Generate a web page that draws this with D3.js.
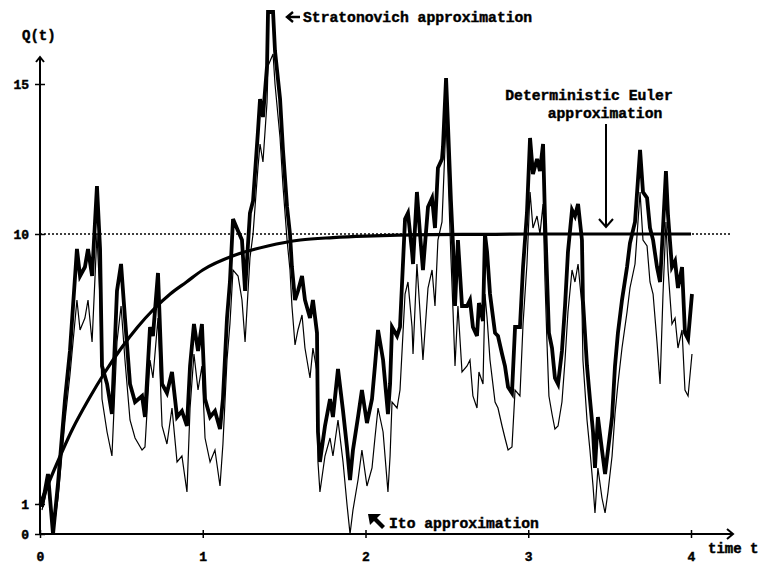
<!DOCTYPE html>
<html>
<head>
<meta charset="utf-8">
<script src="https://cdn.jsdelivr.net/npm/d3@7"></script>
<style>
  html, body { margin: 0; padding: 0; background: #fff; }
  svg { display: block; }
  text { font-family: "Liberation Mono", "DejaVu Sans Mono", monospace; font-weight: bold; fill: #000; stroke: #000; stroke-width: 0.45; }
</style>
</head>
<body>
<svg id="chart" width="765" height="565"></svg>
<script>
// Sample times shared by both stochastic paths
const times = [
  0.012,0.049,0.080,0.111,0.154,0.184,0.227,0.246,0.276,0.295,0.320,0.350,0.369,0.381,0.412,0.442,
  0.473,0.498,0.522,0.553,0.584,0.627,0.645,0.676,0.694,0.725,0.750,0.780,0.811,0.842,0.872,0.903,
  0.922,0.946,0.971,0.995,1.014,1.045,1.075,1.106,1.124,1.149,1.167,1.186,1.217,1.241,1.260,1.290,
  1.309,1.339,1.352,1.370,1.395,1.401,1.432,1.444,1.475,1.493,1.518,1.536,1.548,1.567,1.585,1.610,
  1.628,1.659,1.677,1.702,1.708,1.720,1.751,1.782,1.800,1.831,1.862,1.886,1.905,1.923,1.954,1.978,
  2.009,2.040,2.058,2.077,2.108,2.138,2.151,2.163,2.194,2.212,2.243,2.261,2.286,2.292,2.316,2.335,
  2.353,2.384,2.409,2.427,2.445,2.470,2.476,2.495,2.507,2.525,2.538,2.550,2.568,2.593,2.624,2.642,
  2.660,2.685,2.697,2.722,2.734,2.747,2.765,2.796,2.814,2.839,2.857,2.876,2.900,2.919,2.949,2.968,
  2.992,3.011,3.029,3.054,3.072,3.091,3.103,3.115,3.127,3.146,3.164,3.183,3.207,3.226,3.244,3.269,
  3.287,3.306,3.330,3.336,3.361,3.379,3.398,3.410,3.428,3.453,3.472,3.490,3.515,3.533,3.551,3.576,
  3.607,3.625,3.656,3.687,3.705,3.730,3.748,3.767,3.791,3.810,3.828,3.846,3.859,3.883,3.902,3.920,
  3.945,3.963,3.982,4.006
];

// Stratonovich approximation Q(t)
const stratonovich = [
  0.9,2.0,0.0,1.7,4.5,6.1,9.5,8.6,8.9,9.5,8.6,11.6,9.5,5.6,5.0,4.0,
  8.1,9.0,7.2,5.0,4.4,4.6,3.9,6.9,6.6,8.7,5.0,4.7,5.4,3.9,4.1,3.6,
  5.6,7.0,6.1,7.0,4.5,3.9,4.1,3.5,4.5,7.2,8.4,10.5,10.1,9.8,8.1,10.7,
  11.1,13.4,14.5,13.9,15.6,17.4,17.4,16.1,14.5,12.8,10.9,10.0,8.9,7.8,8.1,8.6,
  7.8,7.2,7.8,6.7,3.4,2.4,3.6,4.5,3.9,5.5,4.1,2.9,1.8,2.8,3.9,4.8,
  3.7,4.5,5.6,6.8,5.8,4.0,5.0,6.9,6.6,6.9,10.5,10.7,9.4,9.0,11.4,10.0,
  8.8,10.9,11.2,10.2,12.2,12.5,12.9,15.2,13.6,11.1,9.6,7.6,9.8,7.6,7.6,7.8,
  6.9,6.6,7.7,7.1,10.0,9.4,8.0,6.7,6.6,6.0,5.6,4.9,4.7,6.9,6.9,8.9,
  10.7,13.2,12.0,12.5,12.1,13.0,10.5,8.6,6.7,6.2,5.2,5.0,6.1,7.6,9.4,10.8,
  10.6,11.0,9.8,7.8,5.6,4.5,3.4,2.2,3.9,2.8,2.0,2.8,3.9,5.6,6.7,7.8,
  8.9,9.7,10.4,12.8,11.4,11.2,10.2,9.8,8.9,8.4,10.2,12.1,10.6,8.9,9.1,8.2,
  8.9,6.7,6.5,8.0
];

// Ito approximation Q(t)
const ito = [
  0.8,1.6,0.0,1.2,3.8,5.3,7.8,6.8,7.2,7.8,6.4,10.0,7.8,4.5,3.4,2.6,
  6.4,7.6,5.8,3.8,3.2,2.8,2.9,5.8,5.2,7.2,3.6,3.0,4.2,2.4,2.6,1.4,
  4.2,6.0,4.8,5.6,3.2,2.4,2.8,1.6,3.0,5.8,7.0,8.8,8.6,7.8,6.4,9.2,
  10.0,12.2,13.0,12.4,14.4,15.6,16.0,15.0,13.2,11.6,9.8,8.8,7.6,6.3,6.8,7.3,
  6.2,5.2,6.2,5.4,2.4,1.4,2.6,3.2,2.6,3.8,2.4,1.0,0.0,0.8,1.8,2.8,
  1.6,2.2,3.2,4.2,3.4,1.4,2.6,4.4,4.2,4.8,8.0,8.4,6.9,6.0,9.0,7.4,
  5.8,8.2,8.8,7.6,9.8,10.4,11.2,13.8,12.0,9.2,7.4,5.6,7.6,5.4,5.6,5.8,
  4.6,4.2,5.4,5.0,8.0,7.2,5.8,4.4,4.2,3.6,3.2,2.8,2.9,4.8,4.6,7.0,
  9.0,11.4,10.2,10.6,10.0,11.0,8.4,6.4,4.6,4.0,3.5,3.6,4.4,5.8,7.4,8.8,
  8.4,9.0,7.6,5.8,3.8,2.8,1.6,0.7,2.2,1.2,0.7,1.4,2.6,4.0,5.0,6.2,
  7.4,8.2,9.0,11.4,9.8,9.6,8.4,8.0,6.4,5.0,8.0,10.4,8.8,7.0,7.2,6.2,
  6.8,4.8,4.6,6.0
];

// Deterministic Euler approximation
const eulerT = [0,0.1,0.2,0.3,0.4,0.5,0.6,0.7,0.8,0.9,1.0,1.2,1.4,1.6,1.8,2.0,2.2,2.4,2.6,2.8,3.0,3.2,3.4,3.6,3.8,4.0];
const eulerQ = [1.0,2.3,3.5,4.5,5.4,6.2,6.9,7.5,8.0,8.4,8.8,9.3,9.6,9.8,9.88,9.93,9.96,9.98,9.99,9.99,10.0,10.0,10.0,10.0,10.0,10.0];

// Axis ticks and reference level
const xTicks = [0, 1, 2, 3, 4];
const yTicks = [0, 1, 10, 15];
const equilibrium = 10;

const svg = d3.select("#chart");

const x = d3.scaleLinear().domain([0, 4]).range([40, 691]);
const y = d3.scaleLinear().domain([0, 15]).range([534, 84]);

const xEnd = 733;   // x-axis arrow tip
const yTop = 57;    // y-axis arrow tip

// Dotted equilibrium level
svg.append("line")
  .attr("x1", x(0)).attr("x2", 731)
  .attr("y1", y(equilibrium)).attr("y2", y(equilibrium))
  .attr("stroke", "#000").attr("stroke-width", 1.3)
  .attr("stroke-dasharray", "2,2");

const line = d3.line().x(d => x(d[0])).y(d => y(d[1]));

// Ito path (thin)
svg.append("path")
  .datum(times.map((t, i) => [t, ito[i]]))
  .attr("d", line)
  .attr("fill", "none").attr("stroke", "#000")
  .attr("stroke-width", 1.2).attr("stroke-linejoin", "miter");

// Stratonovich path (thick)
svg.append("path")
  .datum(times.map((t, i) => [t, stratonovich[i]]))
  .attr("d", line)
  .attr("fill", "none").attr("stroke", "#000")
  .attr("stroke-width", 3.8).attr("stroke-linejoin", "miter");

// Deterministic Euler curve
svg.append("path")
  .datum(eulerT.map((t, i) => [t, eulerQ[i]]))
  .attr("d", line.curve(d3.curveMonotoneX))
  .attr("fill", "none").attr("stroke", "#000")
  .attr("stroke-width", 3.2);

// X axis
const xAxis = svg.append("g")
  .attr("transform", `translate(0,${y(0)})`)
  .call(d3.axisBottom(x).tickValues(xTicks).tickFormat(d3.format("d"))
        .tickSizeInner(4).tickSizeOuter(0).tickPadding(14));
xAxis.select(".domain").remove();
xAxis.selectAll(".tick line").attr("y1", -4).attr("y2", 4).attr("stroke-width", 1.5);
xAxis.selectAll(".tick text").attr("font-size", 13).attr("font-family", "'DejaVu Sans', sans-serif");

svg.append("line")
  .attr("x1", x(0)).attr("x2", xEnd)
  .attr("y1", y(0)).attr("y2", y(0))
  .attr("stroke", "#000").attr("stroke-width", 2);
svg.append("path")
  .attr("d", `M${xEnd - 6},${y(0) - 5} L${xEnd},${y(0)} L${xEnd - 6},${y(0) + 5}`)
  .attr("fill", "none").attr("stroke", "#000").attr("stroke-width", 2);

// Y axis
const yAxis = svg.append("g")
  .attr("transform", `translate(${x(0)},0)`)
  .call(d3.axisLeft(y).tickValues(yTicks).tickFormat(d3.format("d"))
        .tickSizeInner(5).tickSizeOuter(0).tickPadding(6));
yAxis.select(".domain").remove();
yAxis.selectAll(".tick line").attr("x1", -5).attr("x2", 5).attr("stroke-width", 1.5);
yAxis.selectAll(".tick text").attr("font-size", 13).attr("font-family", "'DejaVu Sans', sans-serif");

svg.append("line")
  .attr("x1", x(0)).attr("x2", x(0))
  .attr("y1", y(0)).attr("y2", yTop)
  .attr("stroke", "#000").attr("stroke-width", 2);
svg.append("path")
  .attr("d", `M${x(0) - 4},${yTop + 5} L${x(0)},${yTop} L${x(0) + 4},${yTop + 5}`)
  .attr("fill", "none").attr("stroke", "#000").attr("stroke-width", 2);

// Axis titles
svg.append("text").attr("x", 22).attr("y", 40).attr("font-size", 14).text("Q(t)");
svg.append("text").attr("x", 708).attr("y", 553).attr("font-size", 14).text("time t");

// Stratonovich annotation
svg.append("path")
  .attr("d", "M287,17 L300,17 M293,12 L287,17 L293,22")
  .attr("fill", "none").attr("stroke", "#000").attr("stroke-width", 2.4);
svg.append("text").attr("x", 303).attr("y", 22).attr("font-size", 14.7).text("Stratonovich approximation");

// Deterministic Euler annotation
svg.append("text").attr("x", 589).attr("y", 100).attr("font-size", 14.7)
  .attr("text-anchor", "middle").text("Deterministic Euler");
svg.append("text").attr("x", 605).attr("y", 118).attr("font-size", 14.7)
  .attr("text-anchor", "middle").text("approximation");
svg.append("line")
  .attr("x1", 606).attr("x2", 606).attr("y1", 124).attr("y2", 227)
  .attr("stroke", "#000").attr("stroke-width", 2);
svg.append("path")
  .attr("d", "M599,219 L606,227 L613,219")
  .attr("fill", "none").attr("stroke", "#000").attr("stroke-width", 2);

// Ito annotation
svg.append("path")
  .attr("d", "M368,514 L381,514 L377,518 L385,526 L382,529 L374,521 L370,525 Z")
  .attr("fill", "#000");
svg.append("text").attr("x", 389).attr("y", 528).attr("font-size", 14.7).text("Ito approximation");
</script>
</body>
</html>
